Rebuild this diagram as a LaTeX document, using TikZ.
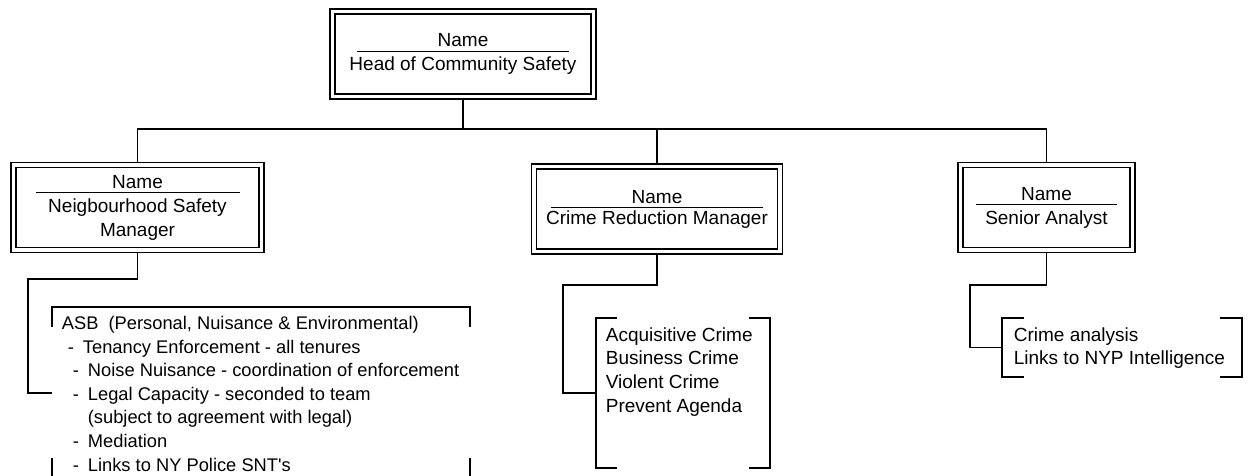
\documentclass[tikz,border=0pt]{standalone}
\usepackage{fontspec}
\setmainfont{Liberation Sans}[Ligatures=TeXOff]
\usetikzlibrary{positioning}

\newcommand{\namebar}[1]{\makebox[#1]{Name}\llap{\rule[-5pt]{#1}{1pt}}}

\begin{document}
\begin{tikzpicture}[
           x = 1pt, y = -1pt,
        font = \fontsize{19pt}{24pt}\selectfont,
  line width = 1.7pt,
  postbox/.style = {rectangle, draw, double, double distance=3.4pt, line width=1.5pt,
                    minimum height=85pt, inner sep=0pt, outer sep=3.2pt, align=center},
 brackbox/.style = {rectangle, inner sep=0pt, outer sep=0pt},
 itemlist/.style = {inner sep=0pt, align=left, font=\fontsize{19pt}{23.7pt}\selectfont}
                        ]
\useasboundingbox (0,0) rectangle (1250,476);
% posts
\node (head) [postbox, minimum width=261pt] at (463,54) {\namebar{212pt}\\Head of Community Safety};
\node (nsm)  [postbox, minimum width=248pt] at (137.5,207.5) {\namebar{204pt}\\Neigbourhood Safety\\Manager};
\node (crm)  [postbox, minimum width=246pt] at (657,209) {\namebar{212pt}\\[-3pt]Crime Reduction Manager};
\node (sa)   [postbox, minimum width=172pt] at (1046.5,207.5) {\namebar{141pt}\\Senior Analyst};
% duty areas
\node (asb)   [brackbox, minimum width=418pt, minimum height=172pt] at (261,393) {};
\node (crime) [brackbox, minimum width=174pt, minimum height=150pt] at (683,393) {};
\node (intel) [brackbox, minimum width=240pt, minimum height=59pt] at (1122,347.5) {};
\node (asbtext) [itemlist, font=\fontsize{18.3pt}{23.6pt}\selectfont,
                 below right=8.4pt and 9pt of asb.north west]
  {ASB\ \ (Personal, Nuisance \& Environmental)\\
   \hspace*{6pt}-\hspace*{9pt}Tenancy Enforcement - all tenures\\
   \hspace*{11pt}-\hspace*{9pt}Noise Nuisance - coordination of enforcement\\
   \hspace*{11pt}-\hspace*{9pt}Legal Capacity - seconded to team\\
   \hspace*{26pt}(subject to agreement with legal)\\
   \hspace*{11pt}-\hspace*{9pt}Mediation\\
   \hspace*{11pt}-\hspace*{9pt}Links to NY Police SNT's};
\node (crimetext) [itemlist, below right=8.4pt and 9pt of crime.north west]
  {Acquisitive Crime\\Business Crime\\Violent Crime\\Prevent Agenda};
\node (inteltext) [itemlist, below right=8.4pt and 11pt of intel.north west]
  {Crime analysis\\Links to NYP Intelligence};
% brackets
\draw ([yshift=-20pt]asb.north west) -- (asb.north west) -- (asb.north east) -- ([yshift=-20pt]asb.north east);
\draw (asb.south west) -- ([yshift=21pt]asb.south west);
\draw (asb.south east) -- ([yshift=21pt]asb.south east);
\draw ([xshift=21pt]crime.north west) -| (crime.south west) -- ([xshift=21pt]crime.south west);
\draw ([xshift=-21pt]crime.north east) -| (crime.south east) -- ([xshift=-21pt]crime.south east);
\draw ([xshift=22pt]intel.north west) -| (intel.south west) -- ([xshift=22pt]intel.south west);
\draw ([xshift=-22pt]intel.north east) -| (intel.south east) -- ([xshift=-22pt]intel.south east);
% lines
\draw (head.south) -- ++(0,29) coordinate (bus);
\draw (nsm.north) |- (bus) -| (sa.north);
\draw (crm.north) -- (crm.north |- bus);
\draw (nsm.south) -- ++(0,26) -| ([xshift=-24pt]asb.west) -- (asb.west);
\draw (crm.south) -- ++(0,30.5) -| ([xshift=-33pt]crime.west) -- (crime.west);
\draw (sa.south) -- ++(0,32) -| ([xshift=-32pt]intel.west) -- (intel.west);
\end{tikzpicture}
\end{document}
